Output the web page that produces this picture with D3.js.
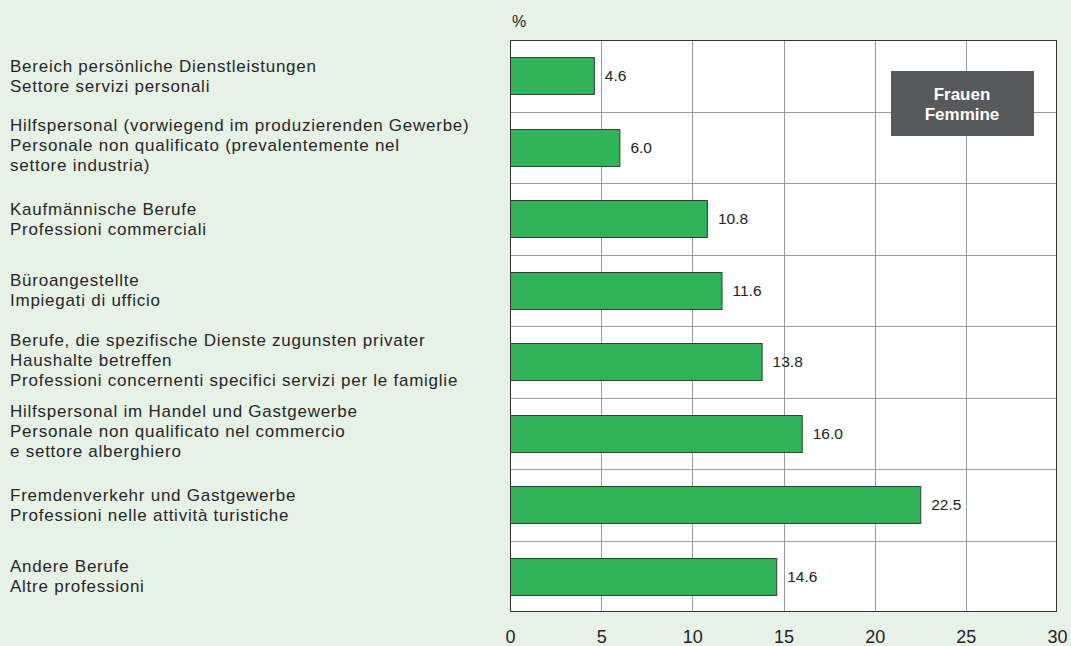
<!DOCTYPE html>
<html>
<head>
<meta charset="utf-8">
<script src="https://cdn.jsdelivr.net/npm/d3@7"></script>
<style>
  body { margin: 0; background: #e7f2e7; }
  svg { display: block; font-family: "Liberation Sans", Arial, sans-serif; }
</style>
</head>
<body>
<div class="display"></div>
<script>
const categories = [
    ['Bereich persönliche Dienstleistungen', 'Settore servizi personali'],
    ['Hilfspersonal (vorwiegend im produzierenden Gewerbe)', 'Personale non qualificato (prevalentemente nel', 'settore industria)'],
    ['Kaufmännische Berufe', 'Professioni commerciali'],
    ['Büroangestellte', 'Impiegati di ufficio'],
    ['Berufe, die spezifische Dienste zugunsten privater', 'Haushalte betreffen', 'Professioni concernenti specifici servizi per le famiglie'],
    ['Hilfspersonal im Handel und Gastgewerbe', 'Personale non qualificato nel commercio', 'e settore alberghiero'],
    ['Fremdenverkehr und Gastgewerbe', 'Professioni nelle attività turistiche'],
    ['Andere Berufe', 'Altre professioni']
];
const values = [4.6, 6.0, 10.8, 11.6, 13.8, 16.0, 22.5, 14.6];
const ticks = [0, 5, 10, 15, 20, 25, 30];
const legendLines = ['Frauen', 'Femmine'];

const width = 1071;
const height = 646;
const plotLeft = 510, plotRight = 1057, plotTop = 40, plotBottom = 612;

const svg = d3.select('.display')
    .append('svg')
    .attr('width', width)
    .attr('height', height)
    .style('background-color', '#e7f2e7');

const xScale = d3.scaleLinear().domain([0, 30]).range([plotLeft, plotRight]);
const yScale = d3.scaleBand()
    .domain(d3.range(values.length))
    .range([plotTop, plotBottom]);
const barH = 37;

// plot background
svg.append('rect')
    .attr('x', plotLeft).attr('y', plotTop)
    .attr('width', plotRight - plotLeft).attr('height', plotBottom - plotTop)
    .attr('fill', 'white');

// vertical grid
svg.append('g')
    .selectAll('line')
    .data(ticks.slice(1, -1))
    .enter()
    .append('line')
    .attr('x1', d => Math.round(xScale(d)) + 0.5).attr('x2', d => Math.round(xScale(d)) + 0.5)
    .attr('y1', plotTop).attr('y2', plotBottom)
    .attr('stroke', '#9a9a9a');

// horizontal grid
svg.append('g')
    .selectAll('line')
    .data(d3.range(1, values.length))
    .enter()
    .append('line')
    .attr('x1', plotLeft).attr('x2', plotRight)
    .attr('y1', d => Math.round(yScale(d)) + 0.5).attr('y2', d => Math.round(yScale(d)) + 0.5)
    .attr('stroke', '#9a9a9a');

// bars
svg.append('g')
    .selectAll('rect')
    .data(values)
    .enter()
    .append('rect')
    .attr('x', plotLeft + 0.5)
    .attr('y', (d, i) => Math.round(yScale(i) + yScale.bandwidth() / 2 - barH / 2) + 0.5)
    .attr('width', d => xScale(d) - plotLeft)
    .attr('height', barH)
    .attr('fill', '#31b35a')
    .attr('stroke', '#3a3a3a')
    .attr('stroke-width', 1);

// value labels
svg.append('g')
    .selectAll('text')
    .data(values)
    .enter()
    .append('text')
    .attr('x', d => xScale(d) + 11)
    .attr('y', (d, i) => yScale(i) + yScale.bandwidth() / 2)
    .attr('dy', '0.35em')
    .attr('font-size', 15.5)
    .attr('fill', '#222')
    .text(d => d.toFixed(1));

// frame
svg.append('rect')
    .attr('x', plotLeft + 0.5).attr('y', plotTop + 0.5)
    .attr('width', plotRight - plotLeft - 1).attr('height', plotBottom - plotTop - 1)
    .attr('fill', 'none')
    .attr('stroke', '#333');

// x axis labels
const xAxis = d3.axisBottom(xScale).tickValues(ticks).tickSize(0).tickPadding(0);
const axisG = svg.append('g')
    .attr('transform', `translate(0, 630)`)
    .call(xAxis);
axisG.select('.domain').remove();
axisG.selectAll('text')
    .attr('font-size', 18)
    .attr('font-family', '"Liberation Sans", Arial, sans-serif')
    .attr('fill', '#222');

// % unit
svg.append('text')
    .attr('x', plotLeft + 2)
    .attr('y', 27)
    .attr('font-size', 16)
    .attr('fill', '#222')
    .text('%');

// category labels
const lineH = 20;
const catG = svg.append('g');
categories.forEach((lines, i) => {
    const cy = yScale(i) + yScale.bandwidth() / 2;
    const y0 = cy - (lines.length - 1) * lineH / 2 - (lines.length > 2 ? 2 : 0);
    const t = catG.append('text')
        .attr('font-size', 17)
        .attr('letter-spacing', 0.75)
        .attr('fill', '#262626');
    lines.forEach((l, j) => {
        t.append('tspan')
            .attr('x', 10)
            .attr('y', y0 + j * lineH)
            .attr('dy', '0.35em')
            .text(l);
    });
});

// legend box
const legend = svg.append('g').attr('id', 'legend');
legend.append('rect')
    .attr('x', 891).attr('y', 71)
    .attr('width', 143).attr('height', 65)
    .attr('fill', '#58595b');
legend.selectAll('text')
    .data(legendLines)
    .enter()
    .append('text')
    .attr('x', 962)
    .attr('y', (d, i) => 100 + i * 20)
    .attr('text-anchor', 'middle')
    .attr('font-size', 17)
    .attr('font-weight', 'bold')
    .attr('fill', 'white')
    .text(d => d);
</script>
</body>
</html>
